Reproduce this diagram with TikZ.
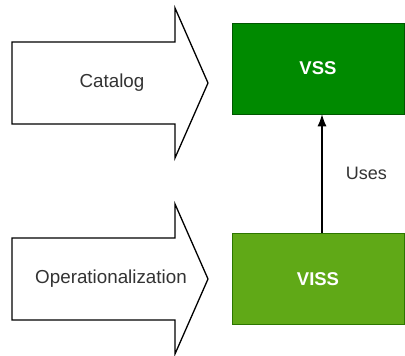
\documentclass[tikz,border=0pt]{standalone}
\usepackage{fontspec}
\setmainfont{Liberation Sans}
\usetikzlibrary{arrows.meta}
\definecolor{txtgray}{HTML}{333333}
\definecolor{vssfill}{HTML}{008A00}
\definecolor{vssline}{HTML}{005700}
\definecolor{vissfill}{HTML}{60A917}
\definecolor{vissline}{HTML}{2D7600}
\tikzset{
  x=1pt, y=1pt,
  blockarrow/.style={draw=black, line width=1.3pt, fill=white, line join=miter},
  arrowtext/.style={text=txtgray, font=\fontsize{18.8}{22}\selectfont},
  greenbox/.style={minimum width=172pt, minimum height=91pt, inner sep=0pt,
    text=white, font=\bfseries\fontsize{18.5}{22}\selectfont, line width=0.6pt},
  uses/.style={-{Latex[length=12pt,width=9pt]}, line width=1.1pt, draw=black},
}
\begin{document}
\begin{tikzpicture}
\useasboundingbox (0,0) rectangle (405,356);
% upper block arrow: Catalog
\draw[blockarrow] (12,314) -- (175,314) -- (175,348) -- (208,273) -- (175,198)
  -- (175,232) -- (12,232) -- cycle;
\node[arrowtext] (catalog) at (112,273) {Catalog};
% lower block arrow: Operationalization
\draw[blockarrow] (12,118) -- (175,118) -- (175,152) -- (208,77) -- (175,2)
  -- (175,36) -- (12,36) -- cycle;
\node[arrowtext] (oper) at (111,77) {Operationalization};
% specification boxes
\node[greenbox, fill=vssfill, draw=vssline] (vss) at (318,287.5) {VSS};
\node[greenbox, fill=vissfill, draw=vissline] (viss) at (318,77) {VISS};
% dependency
\draw[uses] (viss.north -| 322,0) -- (vss.south -| 322,0)
  node[midway, right=20pt, text=txtgray, font=\fontsize{18}{22}\selectfont] (useslbl) {Uses};
\end{tikzpicture}
\end{document}
